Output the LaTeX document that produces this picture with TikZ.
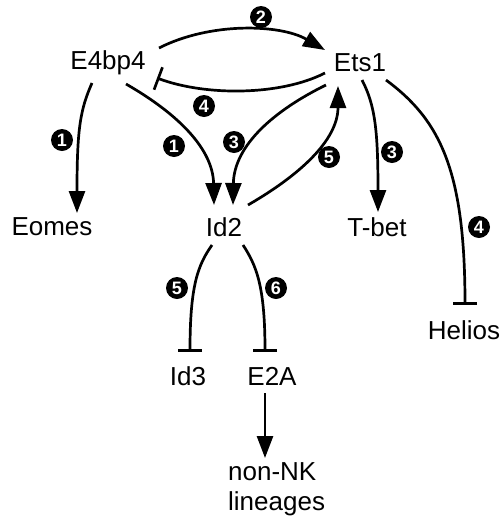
\documentclass[tikz,border=0pt]{standalone}
\usepackage{fontspec}
\setmainfont{Liberation Sans}
\usetikzlibrary{arrows.meta,calc}

\begin{document}
\begin{tikzpicture}[x=1pt,y=-1pt,
  gene/.style={font=\fontsize{26}{30}\selectfont, inner sep=0pt},
  link/.style={line width=2.7pt},
  act/.style={link, -{Triangle[length=22pt,width=16pt]}},
  inh/.style={link, -{Bar[width=24pt,line width=2.7pt]}},
  num/.style={circle, fill=black, text=white, inner sep=0pt, minimum size=22pt,
              font=\bfseries\fontsize{18}{18}\selectfont},
]
% canvas
\fill[white] (0,0) rectangle (501,523);
\useasboundingbox (0,0) rectangle (501,523);

% genes
\node[gene] (E4bp4)  at (108,63)  {E4bp4};
\node[gene] (Ets1)   at (360,63)  {Ets1};
\node[gene] (Eomes)  at (52,227)  {Eomes};
\node[gene] (Id2)    at (224,227) {Id2};
\node[gene] (Tbet)   at (377,227) {T-bet};
\node[gene] (Helios) at (464,330) {Helios};
\node[gene] (Id3)    at (188,376) {Id3};
\node[gene] (E2A)    at (272,376) {E2A};
\node[gene, align=left, anchor=west] (nonNK) at (228,489) {non-NK\\lineages};

% E4bp4 <-> Ets1
\draw[act] ($(E4bp4)+(51,-15)$) .. controls (210,22) and (280,24) .. ($(Ets1)+(-35,-13)$);
\draw[inh] ($(Ets1)+(-35,10)$) .. controls (280,96) and (205,96) .. ($(E4bp4)+(49,15)$);

% E4bp4 targets
\draw[act] ($(E4bp4)+(-16,20)$) .. controls (80,110) and (77,130) .. ($(Eomes)+(25,-14)$);
\draw[act] ($(E4bp4)+(18,21)$) .. controls (180,115) and (213,150) .. ($(Id2)+(-10,-22)$);

% Ets1 <-> Id2
\draw[act] ($(Ets1)+(-34,22)$) .. controls (275,110) and (234,145) .. ($(Id2)+(9,-22)$);
\draw[act] ($(Id2)+(24,-22)$) .. controls (300,175) and (338,140) .. ($(Ets1)+(-22,23)$);

% Ets1 targets
\draw[act] ($(Ets1)+(2,17)$) .. controls (375,105) and (378,130) .. ($(Tbet)+(1,-15)$);
\draw[inh] ($(Ets1)+(26,17)$) .. controls (440,120) and (465,170) .. ($(Helios)+(1,-25)$);

% Id2 targets
\draw[inh] ($(Id2)+(-12,18)$) .. controls (198,265) and (190,285) .. ($(Id3)+(2,-24)$);
\draw[inh] ($(Id2)+(19,18)$) .. controls (256,265) and (265,285) .. ($(E2A)+(-7,-24)$);
\draw[act] ($(E2A)+(-7,17)$) -- ($(E2A)+(-7,82)$);

% step numbers
\node[num] (n2a) at (261,17)  {2};
\node[num] (n4a) at (204,106) {4};
\node[num] (n1a) at (62,140)  {1};
\node[num] (n1b) at (174,146) {1};
\node[num] (n3a) at (234,142) {3};
\node[num] (n5a) at (329,157) {5};
\node[num] (n3b) at (392,152) {3};
\node[num] (n4b) at (479,227) {4};
\node[num] (n5b) at (177,288) {5};
\node[num] (n6a) at (276,288) {6};
\end{tikzpicture}
\end{document}
